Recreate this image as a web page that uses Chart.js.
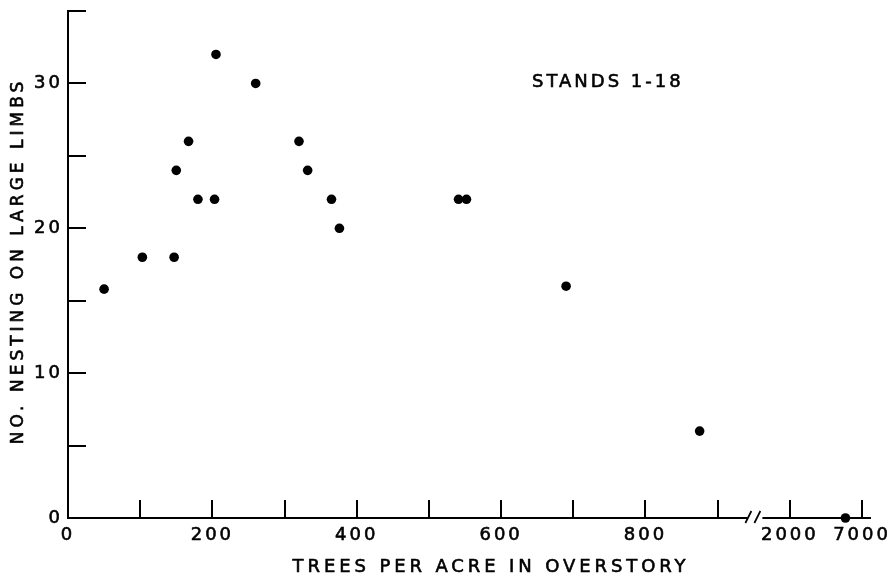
<!DOCTYPE html>
<html>
<head>
<meta charset="utf-8">
<script src="https://cdn.jsdelivr.net/npm/chart.js@4.4.1/dist/chart.umd.min.js"></script>
<style>
  html, body { margin: 0; padding: 0; background: #fff; }
  canvas { display: block; }
</style>
</head>
<body>
<canvas id="chart" width="893" height="578"></canvas>
<script>
// Stands 1-18: overstory density against nests built on large limbs
const treesPerAcre      = [50, 103, 147, 150, 167, 180, 203, 205, 260, 320, 332, 365, 376, 541, 552, 690, 875, 5850];
const nestsOnLargeLimbs = [15.8, 18, 18, 24, 26, 22, 22, 32, 30, 26, 24, 22, 20, 22, 22, 16, 6, 0];

const xTickMarks  = [0, 100, 200, 300, 400, 500, 600, 700, 800, 900, 2000, 7000];
const xTickLabels = [0, 200, 400, 600, 800, 2000, 7000];
const yTickLabels = [0, 10, 20, 30];

const xTitle = 'TREES PER ACRE IN OVERSTORY';
const yTitle = 'NO. NESTING ON LARGE LIMBS';
const noteText = 'STANDS 1-18';

// Broken x axis: linear up to 1000 trees, then 2000..7000 squeezed into one 100-unit step
const BREAK_FROM = 1000, BREAK_TO = 2000, SQUEEZE = 50;
const BREAK_MARK = 955;           // where the "//" sits, in axis units
function toAxis(v)   { return v < BREAK_TO ? v : BREAK_FROM + (v - BREAK_TO) / SQUEEZE; }
function fromAxis(p) { return p < BREAK_FROM ? p : BREAK_TO + (p - BREAK_FROM) * SQUEEZE; }

const FONT = '"DejaVu Sans", sans-serif';
const INK = 0.6;                  // slight outline so lettering reads as pen-drawn

const points = treesPerAcre.map((t, i) => ({ x: toAxis(t), y: nestsOnLargeLimbs[i] }));

function inkText(ctx, text, x, y) {
  ctx.fillText(text, x, y);
  ctx.strokeText(text, x, y);
}

const inkPlugin = {
  id: 'ink',
  beforeDraw(chart) {
    chart.ctx.letterSpacing = '3px';
  },
  afterDraw(chart) {
    const { ctx, chartArea: a, scales: { x, y } } = chart;
    ctx.save();
    ctx.strokeStyle = '#000';
    ctx.lineWidth = 2;
    ctx.lineCap = 'butt';

    // tick marks pointing into the plot
    ctx.beginPath();
    x.ticks.forEach(t => {
      if (t.value <= 0) return;
      const px = Math.round(x.getPixelForValue(t.value));
      ctx.moveTo(px, a.bottom);
      ctx.lineTo(px, a.bottom - 18);
    });
    y.ticks.forEach(t => {
      if (t.value <= 0) return;
      const py = Math.round(y.getPixelForValue(t.value));
      ctx.moveTo(a.left, py);
      ctx.lineTo(a.left + 18, py);
    });
    ctx.stroke();

    // axis break
    const bx = x.getPixelForValue(BREAK_MARK);
    ctx.fillStyle = '#fff';
    ctx.fillRect(bx - 10, a.bottom - 3, 15, 6);
    ctx.lineWidth = 1.7;
    ctx.beginPath();
    ctx.moveTo(bx - 12, a.bottom + 5); ctx.lineTo(bx - 6, a.bottom - 7);
    ctx.moveTo(bx - 3,  a.bottom + 5); ctx.lineTo(bx + 3, a.bottom - 7);
    ctx.stroke();

    // titles and note
    ctx.fillStyle = '#000';
    ctx.lineWidth = INK;
    ctx.lineJoin = 'round';
    ctx.textBaseline = 'middle';

    ctx.letterSpacing = '3.9px';
    ctx.font = '18px ' + FONT;
    ctx.textAlign = 'center';
    inkText(ctx, xTitle, 491, 567);

    ctx.save();
    ctx.letterSpacing = '4px';
    ctx.font = '17px ' + FONT;
    ctx.translate(18.5, 261);
    ctx.rotate(-Math.PI / 2);
    inkText(ctx, yTitle, 0, 0);
    ctx.restore();

    ctx.letterSpacing = '3px';
    ctx.font = '18px ' + FONT;
    ctx.textAlign = 'left';
    inkText(ctx, noteText, 532, 82);
    ctx.restore();
  }
};

new Chart(document.getElementById('chart'), {
  type: 'scatter',
  data: {
    datasets: [{
      data: points,
      backgroundColor: '#000',
      borderWidth: 0,
      pointRadius: 4.8,
      pointHoverRadius: 4.8,
      clip: false
    }]
  },
  options: {
    responsive: false,
    animation: false,
    devicePixelRatio: 1,
    layout: { padding: { top: 11, right: 23, bottom: 0, left: 0 } },
    plugins: { legend: { display: false }, tooltip: { enabled: false } },
    scales: {
      x: {
        type: 'linear',
        min: 0,
        max: 1111,
        afterFit: s => { s.height = 60; s.paddingLeft = 0; s.paddingRight = 0; },
        afterBuildTicks: s => { s.ticks = xTickMarks.map(v => ({ value: toAxis(v) })); },
        grid: { drawOnChartArea: false, drawTicks: false },
        border: { color: '#000', width: 2 },
        ticks: {
          autoSkip: false,
          maxRotation: 0,
          padding: 7,
          color: '#000',
          textStrokeColor: '#000',
          textStrokeWidth: INK,
          font: { size: 18, family: FONT },
          callback: v => {
            const real = fromAxis(v);
            return xTickLabels.includes(real) ? String(real) : '';
          }
        }
      },
      y: {
        type: 'linear',
        min: 0,
        max: 35,
        afterFit: s => { s.width = 68; s.paddingTop = 0; s.paddingBottom = 0; },
        grid: { drawOnChartArea: false, drawTicks: false },
        border: { color: '#000', width: 2 },
        ticks: {
          stepSize: 5,
          padding: 5,
          color: '#000',
          textStrokeColor: '#000',
          textStrokeWidth: INK,
          font: { size: 18, family: FONT },
          callback: v => yTickLabels.includes(v) ? String(v) : ''
        }
      }
    }
  },
  plugins: [inkPlugin]
});
</script>
</body>
</html>
